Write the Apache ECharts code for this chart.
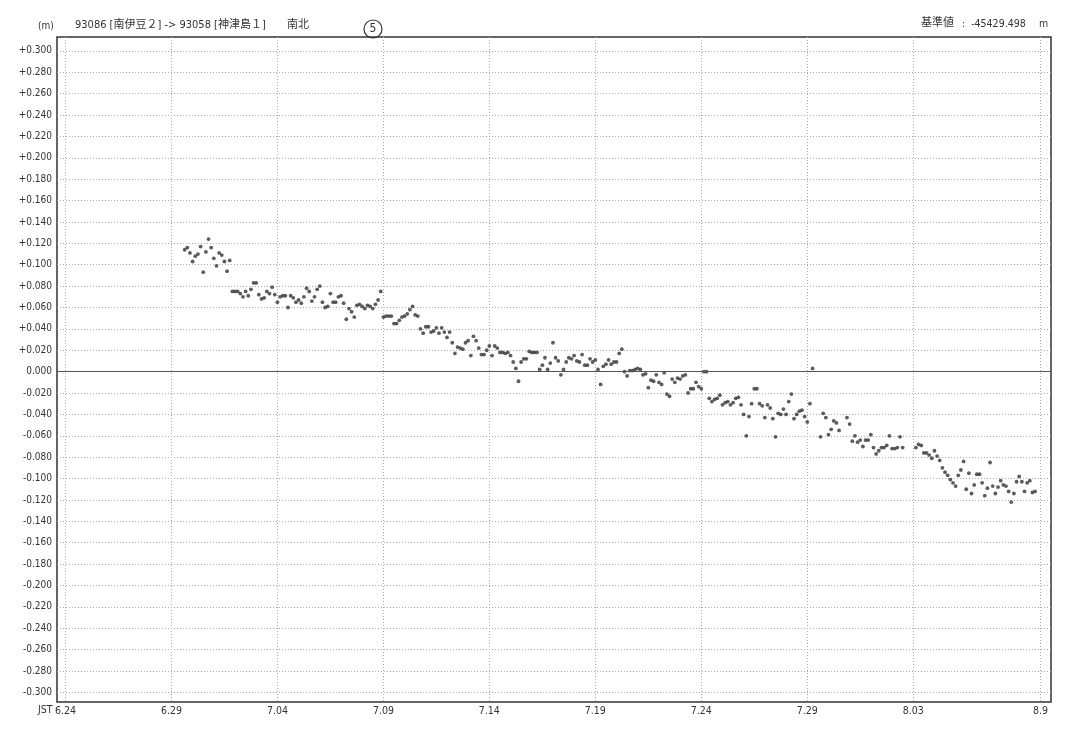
<!DOCTYPE html>
<html><head><meta charset="utf-8">
<script src="https://cdn.jsdelivr.net/npm/echarts@6/dist/echarts.min.js"></script>
<style>html,body{margin:0;padding:0;background:#fff}#c{width:1074px;height:738px}</style>
</head><body><div id="c"></div>
<script>
// x axis: days since 6.24 (JST)
const tickDays = [0, 5, 10, 15, 20, 25, 30, 35, 40, 46];
const tickLabels = ['6.24', '6.29', '7.04', '7.09', '7.14', '7.19', '7.24', '7.29', '8.03', '8.9'];
// y axis tick values (m)
const yTicks = [-0.30, -0.28, -0.26, -0.24, -0.22, -0.20, -0.18, -0.16, -0.14, -0.12, -0.10, -0.08, -0.06, -0.04, -0.02,
  0.00, 0.02, 0.04, 0.06, 0.08, 0.10, 0.12, 0.14, 0.16, 0.18, 0.20, 0.22, 0.24, 0.26, 0.28, 0.30];
// 3-hourly solutions, first sample day and spacing
const sampleStartDay = 5.625;
const sampleStepDays = 0.125;
// north-south component (m), null = missing solution
const nsValues = [
  0.114,0.116,0.111,0.103,0.108,0.110,0.117,0.093,0.112,0.124,0.116,0.106,0.099,0.111,0.109,0.103,0.094,0.104,
  0.075,0.075,0.075,0.073,0.070,0.075,0.071,0.077,0.083,0.083,
  0.072,0.068,0.069,0.075,0.073,0.079,0.072,0.065,0.070,0.071,
  0.071,0.060,0.071,0.069,0.065,0.067,0.064,0.070,0.078,0.075,
  0.066,0.070,0.077,0.080,0.065,0.060,0.061,0.073,0.065,0.065,
  0.070,0.071,0.064,0.049,0.059,0.056,0.051,0.062,0.063,0.061,
  0.059,0.062,0.061,0.059,0.063,0.067,0.075,0.051,0.052,0.052,
  0.052,0.045,0.045,0.048,0.051,0.052,0.054,0.058,0.061,0.053,
  0.052,
  0.040,0.036,0.042,0.042,0.037,0.038,0.041,0.036,0.041,0.037,
  0.032,0.037,0.027,0.017,0.023,0.022,0.021,0.027,0.029,0.015,
  0.033,0.029,0.022,0.016,0.016,0.020,0.024,0.015,0.024,0.022,
  0.018,0.018,0.017,0.018,0.015,0.009,0.003,-0.009,0.009,0.012,
  0.012,0.019,0.018,0.018,0.018,
  0.002,0.006,0.013,0.002,0.008,0.027,0.013,0.010,-0.003,0.002,
  0.009,0.013,0.012,0.015,0.010,0.009,0.016,0.006,0.006,0.012,
  0.009,0.011,0.002,-0.012,0.005,0.007,0.011,0.007,0.009,0.009,
  0.017,0.021,0.000,-0.004,0.001,0.001,0.002,0.003,0.002,-0.003,
  -0.002,-0.015,
  -0.008,-0.009,-0.003,-0.010,-0.012,-0.001,-0.021,-0.023,-0.007,-0.010,
  -0.006,-0.007,-0.004,-0.003,-0.020,-0.016,-0.016,-0.010,-0.014,-0.016,
  0.000,0.000,-0.025,-0.028,-0.026,-0.025,-0.022,-0.031,-0.029,-0.028,
  -0.031,-0.029,-0.025,-0.024,-0.031,-0.040,-0.060,-0.042,-0.030,-0.016,
  -0.016,-0.030,-0.032,-0.043,-0.031,-0.034,-0.044,-0.061,-0.039,-0.040,
  -0.035,-0.040,-0.028,-0.021,-0.044,-0.040,
  -0.037,-0.036,-0.042,-0.047,-0.030,0.003,null,null,
  -0.061,-0.039,-0.043,-0.059,-0.054,-0.046,-0.048,-0.055,null,null,
  -0.043,-0.049,-0.065,-0.060,-0.066,-0.064,-0.070,-0.064,-0.064,-0.059,-0.071,
  -0.077,-0.074,-0.071,-0.071,-0.069,-0.060,-0.072,-0.072,-0.071,-0.061,-0.071,
  null,null,null,null,
  -0.071,-0.068,-0.069,-0.076,-0.076,-0.078,-0.081,-0.074,-0.079,-0.083,
  -0.090,-0.094,-0.097,-0.101,-0.104,-0.107,-0.097,-0.092,-0.084,-0.110,
  -0.095,-0.114,-0.106,-0.096,-0.096,-0.104,-0.116,-0.109,-0.085,-0.107,
  -0.114,-0.108,-0.102,-0.106,-0.107,-0.112,-0.122,-0.114,-0.103,-0.098,
  -0.103,-0.112,-0.104,-0.102,-0.113,-0.112
];

const points = [];
nsValues.forEach((v, i) => { if (v !== null) points.push([sampleStartDay + i * sampleStepDays, v]); });

const FONT = '"DejaVu Sans Condensed", "Noto Sans CJK JP", sans-serif';
const TXT = '#333';

function fmtY(v) {
  const r = Math.round(v * 1000) / 1000;
  if (r === 0) return '0.000';
  return (r > 0 ? '+' : '') + r.toFixed(3);
}

const chart = echarts.init(document.getElementById('c'), null, { renderer: 'canvas' });
chart.setOption({
  animation: false,
  backgroundColor: '#fff',
  grid: { left: 57, right: 23, top: 37, bottom: 36, show: true, borderColor: '#333', borderWidth: 1.5, backgroundColor: 'transparent' },
  xAxis: {
    type: 'value', min: -0.4, max: 46.5,
    axisLine: { show: false },
    axisTick: { show: false, customValues: tickDays },
    axisLabel: {
      customValues: tickDays, color: TXT, fontFamily: FONT, fontSize: 10.5, margin: 4,
      formatter: v => { const k = tickDays.indexOf(Math.round(v)); return k >= 0 ? tickLabels[k] : ''; }
    },
    splitLine: { show: true, lineStyle: { color: '#aaa', type: [1, 2], width: 1 } }
  },
  yAxis: {
    type: 'value', min: -0.309, max: 0.313,
    axisLine: { show: false },
    axisTick: { show: false, customValues: yTicks },
    axisLabel: { customValues: yTicks, color: TXT, fontFamily: FONT, fontSize: 10, margin: 5, formatter: fmtY },
    splitLine: { show: true, lineStyle: { color: '#aaa', type: [1, 2], width: 1 } }
  },
  series: [{
    type: 'scatter',
    data: points,
    symbol: 'circle',
    symbolSize: 3.8,
    itemStyle: { color: '#333' },
    silent: true,
    markLine: {
      silent: true, symbol: 'none', label: { show: false },
      lineStyle: { color: '#555', type: 'solid', width: 1.2 },
      data: [{ yAxis: 0 }]
    }
  }],
  graphic: [
    { type: 'text', left: 38, top: 21, style: { text: '(m)', fill: TXT, font: '10px ' + FONT } },
    { type: 'text', left: 75, top: 20, style: { text: '93086 [南伊豆２] -> 93058 [神津島１]', fill: TXT, font: '11px ' + FONT } },
    { type: 'text', left: 287, top: 20, style: { text: '南北', fill: TXT, font: '11px ' + FONT } },
    { type: 'circle', shape: { cx: 373, cy: 29, r: 9 }, style: { fill: 'none', stroke: '#333', lineWidth: 1.2 } },
    { type: 'text', x: 373, y: 29, style: { text: '5', fill: TXT, font: '12px ' + FONT, align: 'center', verticalAlign: 'middle' } },
    { type: 'text', left: 921, top: 18, style: { text: '基準値', fill: TXT, font: '11px ' + FONT } },
    { type: 'text', left: 962, top: 19, style: { text: ':  -45429.498', fill: TXT, font: '10.5px ' + FONT } },
    { type: 'text', left: 1039, top: 19, style: { text: 'm', fill: TXT, font: '10.5px ' + FONT } },
    { type: 'text', left: 38, top: 705, style: { text: 'JST', fill: TXT, font: '10.5px ' + FONT } }
  ]
});
</script>
</body></html>
